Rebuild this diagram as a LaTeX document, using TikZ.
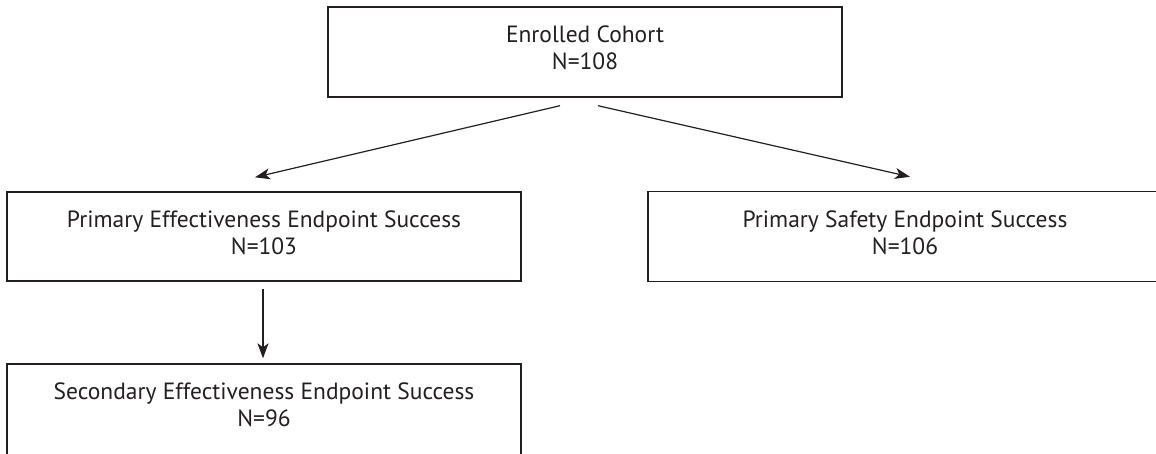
\documentclass[tikz,border=0pt]{standalone}
\usepackage{fontspec}
\setmainfont{PT Sans}
\usetikzlibrary{arrows.meta,calc}
\definecolor{ink}{HTML}{231F20}
\tikzset{
  box/.style={draw=ink, line width=1.4pt, minimum width=514pt, minimum height=90pt, inner sep=0pt},
  lbl/.style={align=center, text=ink, inner sep=0pt, yshift=4pt,
    font=\fontsize{23.5pt}{27pt}\selectfont},
  arr/.style={draw=ink, line width=1.2pt, -{Stealth[length=15pt,width=11pt,inset=4pt]}}
}
\begin{document}
\begin{tikzpicture}[x=1pt,y=1pt]
\useasboundingbox (0,0) rectangle (1156,-453);
\clip (0,0) rectangle (1156,-453);
\node[box, label={[lbl]center:{Enrolled Cohort\\N=108}}] (top) at (585,-52) {};
\node[box, minimum height=89pt, label={[lbl]center:{Primary Effectiveness Endpoint Success\\N=103}}] (pe) at (264,-236.5) {};
\node[box, label={[lbl]center:{Primary Safety Endpoint Success\\N=106}}] (ps) at (905,-236.5) {};
\node[box, minimum height=100pt, label={[lbl, yshift=5pt]center:{Secondary Effectiveness Endpoint Success\\N=96}}] (se) at (264,-414) {};
\draw[arr] ($(top.south)+(-25,-8)$) -- ($(pe.north)+(-9,14)$);
\draw[arr] ($(top.south)+(13,-8)$) -- ($(ps.north)+(5,14)$);
\draw[arr] ($(pe.south)+(-1,-7)$) -- ($(se.north)+(-1,5)$);
\end{tikzpicture}
\end{document}
